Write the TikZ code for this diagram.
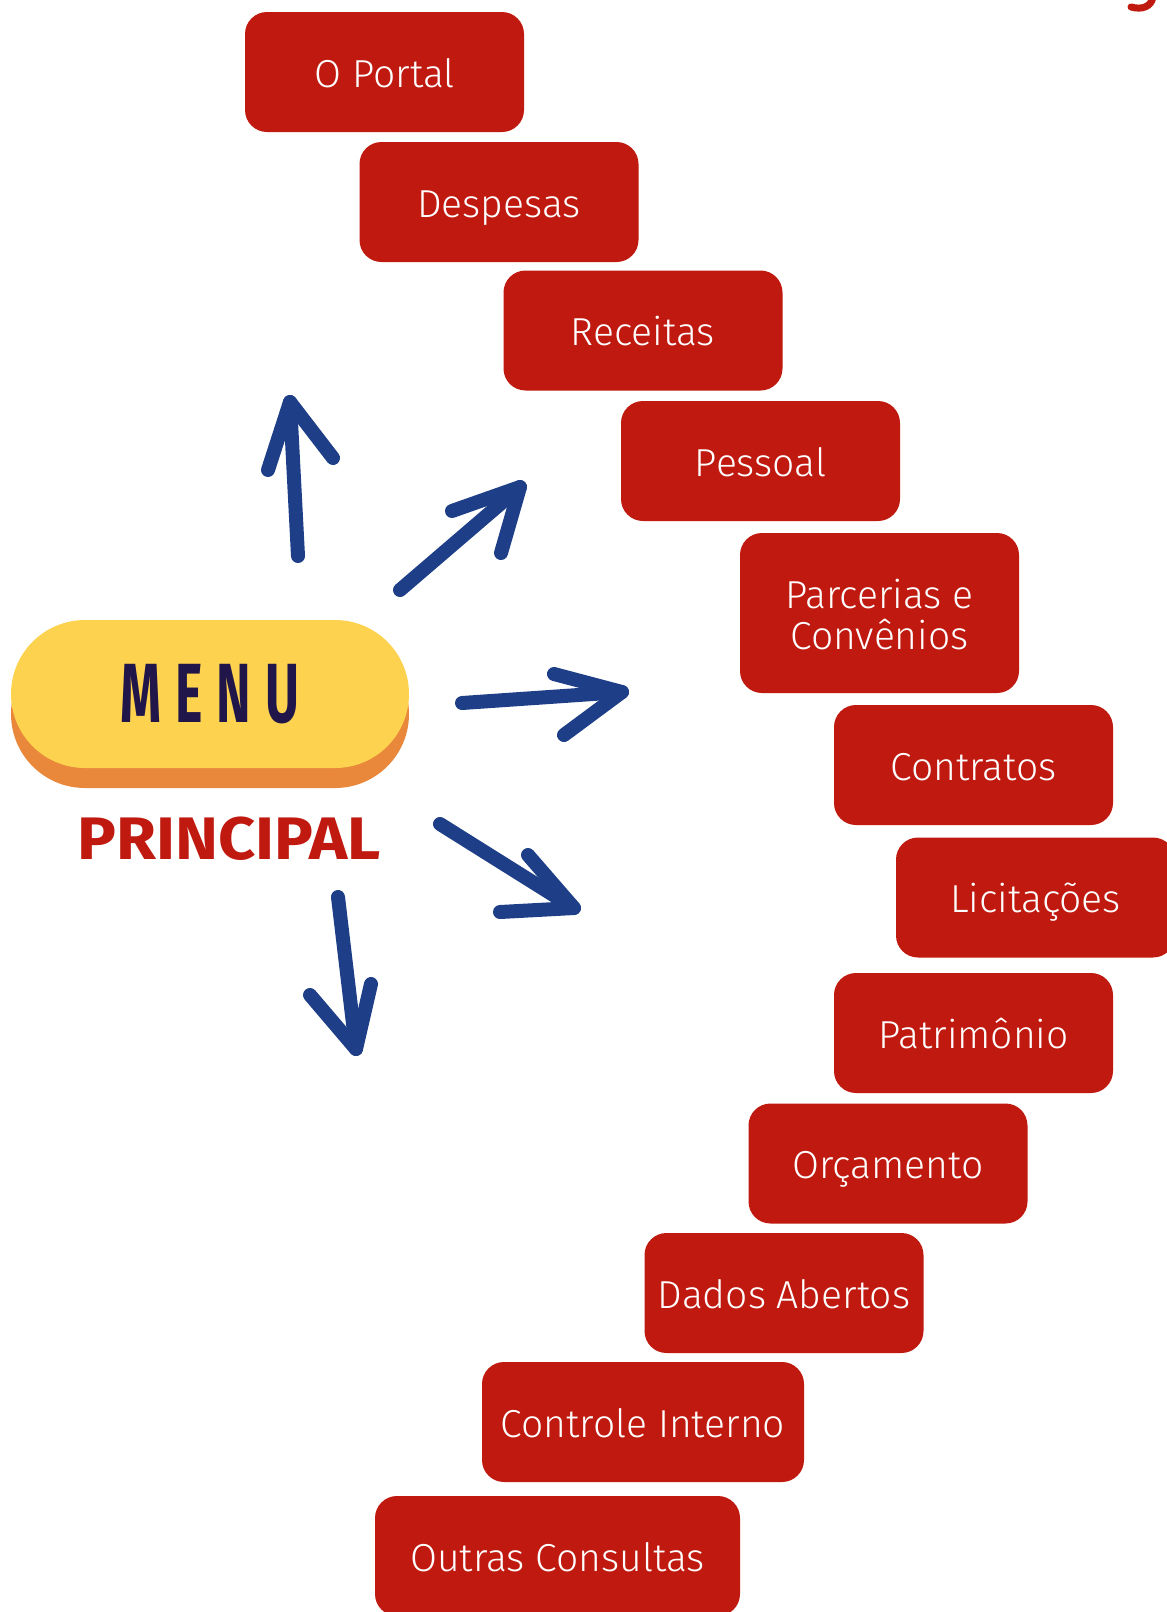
\documentclass[tikz,border=0pt]{standalone}
\usepackage{fontspec}
\setmainfont{Fira Sans}
\newfontfamily\itemfont{Fira Sans}[UprightFont=* Light]
\newfontfamily\menufont{Fira Sans}[FakeStretch=0.62]
\newfontfamily\princfont{Fira Sans}[FakeStretch=1.08]
\definecolor{boxred}{HTML}{C0190F}
\definecolor{arrowblue}{HTML}{1E3F87}
\definecolor{menuyellow}{HTML}{FCD24F}
\definecolor{menuorange}{HTML}{E9873A}
\definecolor{menuink}{HTML}{21164A}
\tikzset{
  item/.style={rectangle, rounded corners=22pt, fill=boxred, text=white, inner sep=0pt,
    minimum width=279pt, minimum height=120pt, text height=30pt, text depth=0pt,
    font=\itemfont\fontsize{39}{41}\selectfont, align=center},
  pill/.style={rectangle, rounded corners=74pt, inner sep=0pt, minimum width=398pt, minimum height=148pt},
  brush/.style={draw=arrowblue, line width=14pt, line cap=round, line join=round}
}
\begin{document}
\begin{tikzpicture}[x=1pt, y=-1pt]
\useasboundingbox (0,0) rectangle (1167,1612);
\fill[white] (0,0) rectangle (1167,1612);
\node[item] (it1) at (384.5,72){O Portal};
\node[item] (it2) at (499,202){Despesas};
\node[item] (it3) at (643,330.5){Receitas};
\node[item] (it4) at (760.5,461){Pessoal};
\node[item, minimum height=160pt, text height=72pt] (it5) at (879.5,613){Parcerias e\\Convênios};
\node[item] (it6) at (973.5,765){Contratos};
\node[item] (it7) at (1035.5,897.5){Licitações};
\node[item] (it8) at (973.5,1033){Patrimônio};
\node[item] (it9) at (888,1163.5){Orçamento};
\node[item] (it10) at (784,1293){Dados Abertos};
\node[item, minimum width=322pt] (it11) at (643,1422){Controle Interno};
\node[item, minimum width=365pt] (it12) at (557.5,1556){Outras Consultas};
\draw[boxred, line width=7pt, line cap=round] (1131,7) .. controls (1142,10) and (1151,7) .. (1153,-3);
\node[pill, fill=menuorange] (menush) at (210,714){};
\node[pill, fill=menuyellow, text=menuink, font=\menufont\bfseries\fontsize{84}{84}\selectfont] (menu) at (210,694){M\hspace{14pt}E\hspace{14pt}N\hspace{14pt}U};
\node[text=boxred, font=\princfont\bfseries\fontsize{60}{60}\selectfont] (princ) at (229,839){PRINCIPAL};
\coordinate (up0) at (298,556);
\coordinate (up1) at (290,402);
\coordinate (up2) at (268,470);
\coordinate (up3) at (333,458);
\draw[brush] (up0) -- (up1);
\draw[brush] (up2) -- (up1) -- (up3);
\coordinate (ur0) at (400,590);
\coordinate (ur1) at (520,487);
\coordinate (ur2) at (452,511);
\coordinate (ur3) at (501,553);
\draw[brush] (ur0) -- (ur1);
\draw[brush] (ur2) -- (ur1) -- (ur3);
\coordinate (rt0) at (462,703);
\coordinate (rt1) at (622,692);
\coordinate (rt2) at (554,674);
\coordinate (rt3) at (564,735);
\draw[brush] (rt0) -- (rt1);
\draw[brush] (rt2) -- (rt1) -- (rt3);
\coordinate (dr0) at (440,824);
\coordinate (dr1) at (574,908);
\coordinate (dr2) at (528,855);
\coordinate (dr3) at (500,912);
\draw[brush] (dr0) -- (dr1);
\draw[brush] (dr2) -- (dr1) -- (dr3);
\coordinate (dn0) at (338,897);
\coordinate (dn1) at (356,1049);
\coordinate (dn2) at (310,995);
\coordinate (dn3) at (371,984);
\draw[brush] (dn0) -- (dn1);
\draw[brush] (dn2) -- (dn1) -- (dn3);
\end{tikzpicture}
\end{document}
